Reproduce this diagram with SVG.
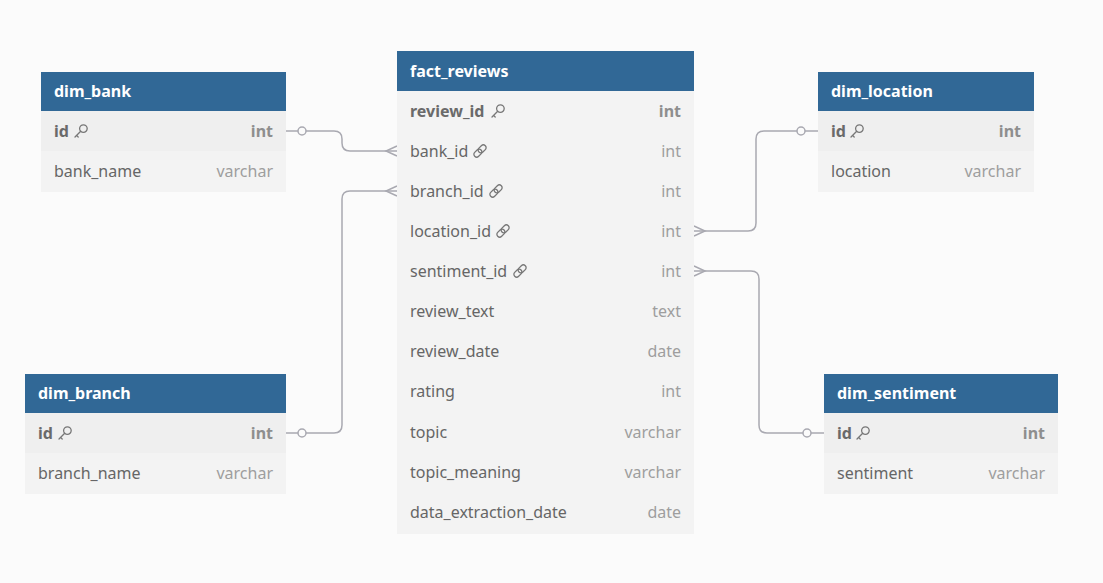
<svg xmlns="http://www.w3.org/2000/svg" width="1103" height="583" viewBox="0 0 1103 583">
<style>
.bg{fill:#fbfbfb}
.hd{fill:#316896}
.body{fill:#f3f3f3}
.pkrow{fill:#efefef}
.title{font-family:"Noto Sans","Open Sans",sans-serif;font-size:16px;font-weight:bold;fill:#ffffff}
.nm{font-family:"Noto Sans","Open Sans",sans-serif;font-size:16px;fill:#666666}
.pk{font-weight:bold;fill:#6a6a6a}
.ty{font-family:"Noto Sans","Open Sans",sans-serif;font-size:16px;fill:#9e9e9e;text-anchor:end}
.tyb{font-weight:bold;fill:#8e8e8e}
.conn{fill:none;stroke:#a9a9b1;stroke-width:1.5}
.dot{fill:#fbfbfb;stroke:#a9a9b1;stroke-width:1.5}
.ico{fill:none;stroke:#777777;stroke-width:1.3;stroke-linecap:round}
</style>
<defs>
<g id="key" class="ico"><circle cx="2.4" cy="-2.4" r="3.8"/><path d="M-0.3,0.3 L-6,6 M-4.4,4.4 L-2.8,6"/></g>
<g id="link" class="ico" stroke-width="1.7"><g transform="rotate(-45)"><rect x="-7.5" y="-2.8" width="9" height="5.6" rx="2.8"/><rect x="-1.5" y="-2.8" width="9" height="5.6" rx="2.8"/></g></g>
</defs>
<rect class="bg" x="0" y="0" width="1103" height="583"/>

<g id="connectors">
<path class="conn" d="M286,131 H334 Q342,131 342,139 V143 Q342,151 350,151 H397"/>
<path class="conn" d="M397,146 L386,151 L397,156"/>
<circle class="dot" cx="302" cy="131" r="4"/>
<path class="conn" d="M286,433 H334 Q342,433 342,425 V199 Q342,191 350,191 H397"/>
<path class="conn" d="M397,186 L386,191 L397,196"/>
<circle class="dot" cx="302" cy="433" r="4"/>
<path class="conn" d="M694,231 H748 Q756,231 756,223 V139 Q756,131 764,131 H818"/>
<path class="conn" d="M694,226 L705,231 L694,236"/>
<circle class="dot" cx="801" cy="131" r="4"/>
<path class="conn" d="M694,271 H751 Q759,271 759,279 V425 Q759,433 767,433 H824"/>
<path class="conn" d="M694,266 L705,271 L694,276"/>
<circle class="dot" cx="807" cy="433" r="4"/>
</g>

<g id="fact_reviews">
<rect class="body" x="397" y="91" width="297" height="443"/>
<rect class="hd" x="397" y="51" width="297" height="40"/>
<text class="title" x="410" y="76.5">fact_reviews</text>
<text class="nm pk" x="410" y="116.5">review_id</text><use href="#key" x="498" y="111"/><text class="ty tyb" x="681" y="116.5">int</text>
<text class="nm" x="410" y="156.5">bank_id</text><use href="#link" x="480" y="151"/><text class="ty" x="681" y="156.5">int</text>
<text class="nm" x="410" y="196.5">branch_id</text><use href="#link" x="496" y="191"/><text class="ty" x="681" y="196.5">int</text>
<text class="nm" x="410" y="236.5">location_id</text><use href="#link" x="503" y="231"/><text class="ty" x="681" y="236.5">int</text>
<text class="nm" x="410" y="276.5">sentiment_id</text><use href="#link" x="520" y="271"/><text class="ty" x="681" y="276.5">int</text>
<text class="nm" x="410" y="316.5">review_text</text><text class="ty" x="681" y="316.5">text</text>
<text class="nm" x="410" y="356.5">review_date</text><text class="ty" x="681" y="356.5">date</text>
<text class="nm" x="410" y="397">rating</text><text class="ty" x="681" y="397">int</text>
<text class="nm" x="410" y="437.5">topic</text><text class="ty" x="681" y="437.5">varchar</text>
<text class="nm" x="410" y="477.5">topic_meaning</text><text class="ty" x="681" y="477.5">varchar</text>
<text class="nm" x="410" y="518">data_extraction_date</text><text class="ty" x="681" y="518">date</text>
</g>

<g id="dim_bank">
<rect class="body" x="41" y="111" width="245" height="81"/>
<rect class="pkrow" x="41" y="111" width="245" height="40"/>
<rect class="hd" x="41" y="72" width="245" height="39"/>
<text class="title" x="54" y="96.5">dim_bank</text>
<text class="nm pk" x="54" y="136.5">id</text><use href="#key" x="81" y="131"/><text class="ty tyb" x="273" y="136.5">int</text>
<text class="nm" x="54" y="176.5">bank_name</text><text class="ty" x="273" y="176.5">varchar</text>
</g>

<g id="dim_location">
<rect class="body" x="818" y="111" width="216" height="81"/>
<rect class="pkrow" x="818" y="111" width="216" height="40"/>
<rect class="hd" x="818" y="72" width="216" height="39"/>
<text class="title" x="831" y="96.5">dim_location</text>
<text class="nm pk" x="831" y="136.5">id</text><use href="#key" x="857" y="131"/><text class="ty tyb" x="1021" y="136.5">int</text>
<text class="nm" x="831" y="176.5">location</text><text class="ty" x="1021" y="176.5">varchar</text>
</g>

<g id="dim_branch">
<rect class="body" x="25" y="413" width="261" height="81"/>
<rect class="pkrow" x="25" y="413" width="261" height="40"/>
<rect class="hd" x="25" y="374" width="261" height="39"/>
<text class="title" x="38" y="398.5">dim_branch</text>
<text class="nm pk" x="38" y="438.5">id</text><use href="#key" x="65" y="433"/><text class="ty tyb" x="273" y="438.5">int</text>
<text class="nm" x="38" y="478.5">branch_name</text><text class="ty" x="273" y="478.5">varchar</text>
</g>

<g id="dim_sentiment">
<rect class="body" x="824" y="413" width="234" height="81"/>
<rect class="pkrow" x="824" y="413" width="234" height="40"/>
<rect class="hd" x="824" y="374" width="234" height="39"/>
<text class="title" x="837" y="398.5">dim_sentiment</text>
<text class="nm pk" x="837" y="438.5">id</text><use href="#key" x="863" y="433"/><text class="ty tyb" x="1045" y="438.5">int</text>
<text class="nm" x="837" y="478.5">sentiment</text><text class="ty" x="1045" y="478.5">varchar</text>
</g>
</svg>
